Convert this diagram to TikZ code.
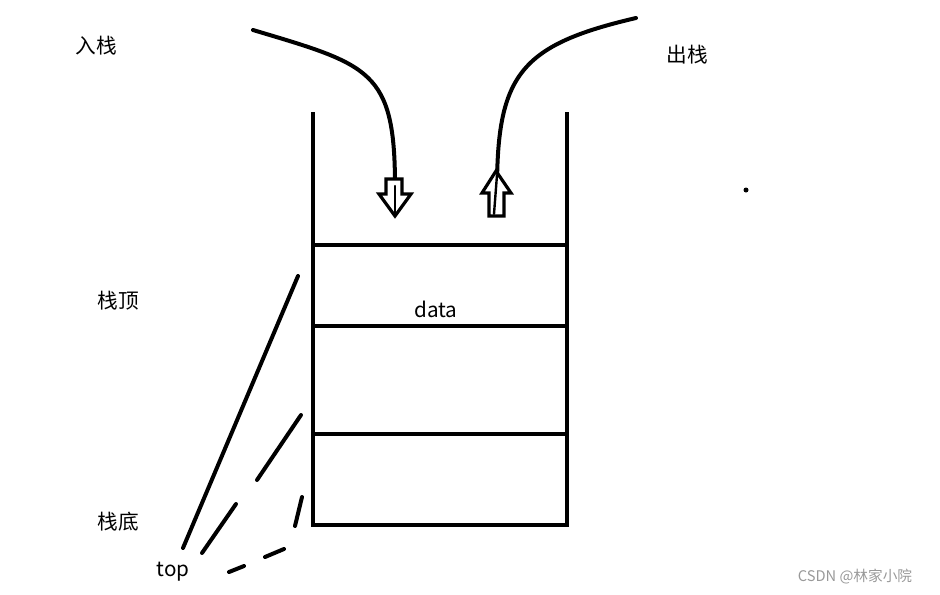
\documentclass[tikz,border=0pt]{standalone}
\usepackage{fontspec}
\setmainfont{Noto Sans CJK SC}
\usetikzlibrary{positioning}

\begin{document}
\begin{tikzpicture}[
    x=0.75pt, y=-0.75pt,
    label/.style={font=\fontsize{15.5}{18}\selectfont, inner sep=0pt},
    wall/.style={line width=3.2pt},
    stroke/.style={line width=3pt, line cap=round},
    hollow/.style={line width=2.4pt, line join=miter, fill=white}
  ]
    \useasboundingbox (0,0) rectangle (940,594);
    % labels
    \node[label] (push) at (96,46) {入栈};
    \node[label] (pop) at (687,55) {出栈};
    \node[label] (topname) at (118,301) {栈顶};
    \node[label] (bottomname) at (118,522) {栈底};
    \node[label] (top) at (173,572) {top};
    \node[label] (data) at (436,309) {data};
    \node[font=\fontsize{11}{13}\selectfont, text=black!40, inner sep=0pt] (mark) at (855,577) {CSDN @林家小院};
    % stack
    \draw[wall] (313,112) -- (313,525) -- (567,525) -- (567,112);
    \foreach \y in {245,326,434}
      \draw[wall] (313,\y) -- (567,\y);
    % push and pop curves
    \coordinate (pushstart) at (253,30);
    \coordinate (pushend) at (395,186);
    \coordinate (popstart) at (636,18);
    \coordinate (popend) at (497,190);
    \draw[stroke] (pushstart) .. controls (370,65) and (395,70) .. (pushend);
    \draw[stroke] (popstart) .. controls (520,45) and (497,75) .. (popend);
    \draw[hollow] (386,179) -- (402,179) -- (402,194) -- (411,194) -- (395,216)
      -- (379,194) -- (386,194) -- cycle;
    \draw[hollow] (489,216) -- (504,216) -- (504,193) -- (511,193) -- (496,171)
      -- (482,193) -- (489,193) -- cycle;
    \draw[stroke, line width=1.8pt] (395,186) -- (395,214);
    \draw[stroke, line width=1.8pt] (497,175) -- (494,214);
    % dot
    \fill (746,190) circle (2.5);
    % top pointers
    \draw[stroke] (183,548) -- (298,276);
    \draw[stroke] (202,553) -- (236,504);
    \draw[stroke] (257,480) -- (301,415);
    \draw[stroke] (229,572) -- (244,566);
    \draw[stroke] (265,557) -- (284,549);
    \draw[stroke] (295,526) -- (302,497);
  \end{tikzpicture}
\end{document}
